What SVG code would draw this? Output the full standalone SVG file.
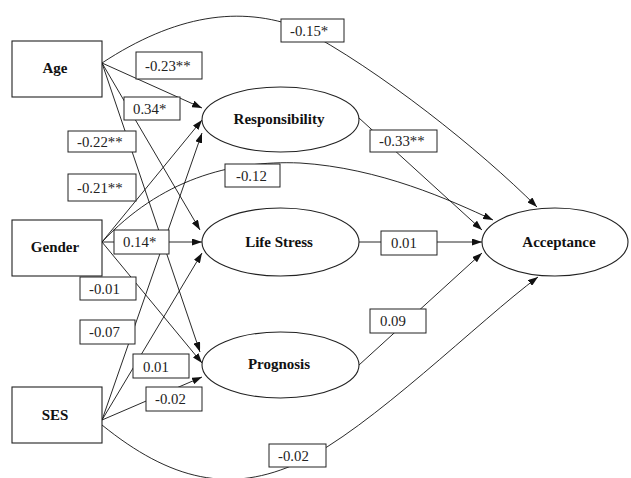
<svg xmlns="http://www.w3.org/2000/svg" width="631" height="478" viewBox="0 0 631 478">
<defs>
<marker id="arr" markerWidth="10" markerHeight="7" refX="10" refY="3.5" orient="auto" markerUnits="userSpaceOnUse">
<path d="M0,0 L10,3.5 L0,7 z" fill="#111"/>
</marker>
<style>
.box{fill:#fff;stroke:#222;stroke-width:1.1}
.lbl{fill:#fff;stroke:#222;stroke-width:1}
.edge{fill:none;stroke:#111;stroke-width:0.9;marker-end:url(#arr)}
text{font-family:'Liberation Serif','Times New Roman',Times,serif}
.nt{font-weight:bold;font-size:15px;fill:#111;text-anchor:middle}
.lt{font-size:14.8px;fill:#222}
</style>
</defs>
<rect width="631" height="478" fill="#fff"/>
<g id="connectors">
<path class="edge" d="M102,63 C175,15 240,5 300,28 C380,70 480,150 537,207"/>
<path class="edge" d="M102,63 L202,108"/>
<path class="edge" d="M102,63 L200,230"/>
<path class="edge" d="M102,63 L200,352"/>
<path class="edge" d="M102,242 L202,120"/>
<path class="edge" d="M102,242 C160,180 230,160 300,163 C380,168 450,200 493,220"/>
<path class="edge" d="M102,242 L202,242"/>
<path class="edge" d="M102,242 L202,363"/>
<path class="edge" d="M102,420 L202,133"/>
<path class="edge" d="M102,420 L202,253"/>
<path class="edge" d="M102,420 L202,377"/>
<path class="edge" d="M102,425 C170,480 230,495 300,462 C370,429 480,320 538,277"/>
<path class="edge" d="M359,118 L482,230"/>
<path class="edge" d="M359,242 L482,242"/>
<path class="edge" d="M359,365 L482,253"/>
</g>
<g id="labels">
<rect class="lbl" x="281" y="19" width="63" height="23"/><text class="lt" x="290" y="36">-0.15*</text>
<rect class="lbl" x="136" y="52" width="66" height="27"/><text class="lt" x="145" y="71">-0.23**</text>
<rect class="lbl" x="124" y="97" width="56" height="23"/><text class="lt" x="133" y="114">0.34*</text>
<rect class="lbl" x="68" y="131" width="68" height="21"/><text class="lt" x="77" y="147">-0.22**</text>
<rect class="lbl" x="68" y="174" width="68" height="27"/><text class="lt" x="77" y="193">-0.21**</text>
<rect class="lbl" x="225" y="164" width="55" height="23"/><text class="lt" x="236" y="181">-0.12</text>
<rect class="lbl" x="114" y="230" width="55" height="24"/><text class="lt" x="123" y="247">0.14*</text>
<rect class="lbl" x="80" y="277" width="56" height="23"/><text class="lt" x="89" y="294">-0.01</text>
<rect class="lbl" x="80" y="320" width="55" height="24"/><text class="lt" x="89" y="337">-0.07</text>
<rect class="lbl" x="133" y="354" width="56" height="24"/><text class="lt" x="143" y="372">0.01</text>
<rect class="lbl" x="146" y="387" width="56" height="24"/><text class="lt" x="155" y="404">-0.02</text>
<rect class="lbl" x="269" y="444" width="57" height="23"/><text class="lt" x="278" y="461">-0.02</text>
<rect class="lbl" x="370" y="130" width="67" height="22"/><text class="lt" x="379" y="146">-0.33**</text>
<rect class="lbl" x="381" y="231" width="56" height="24"/><text class="lt" x="391" y="248">0.01</text>
<rect class="lbl" x="370" y="309" width="56" height="24"/><text class="lt" x="380" y="326">0.09</text>
</g>
<g id="age"><rect class="box" x="12" y="41" width="90" height="56"/><text class="nt" x="55" y="73">Age</text></g>
<g id="gender"><rect class="box" x="12" y="220" width="90" height="56"/><text class="nt" x="55" y="252">Gender</text></g>
<g id="ses"><rect class="box" x="12" y="387" width="90" height="56"/><text class="nt" x="55" y="420">SES</text></g>
<g id="responsibility"><ellipse class="box" cx="280.5" cy="119.5" rx="78.5" ry="32.5"/><text class="nt" x="279" y="124">Responsibility</text></g>
<g id="lifestress"><ellipse class="box" cx="280.5" cy="242" rx="78.5" ry="34"/><text class="nt" x="279" y="247">Life Stress</text></g>
<g id="prognosis"><ellipse class="box" cx="280.5" cy="365" rx="78.5" ry="33"/><text class="nt" x="279" y="369">Prognosis</text></g>
<g id="acceptance"><ellipse class="box" cx="555" cy="242" rx="73" ry="34"/><text class="nt" x="559" y="247">Acceptance</text></g>
</svg>
